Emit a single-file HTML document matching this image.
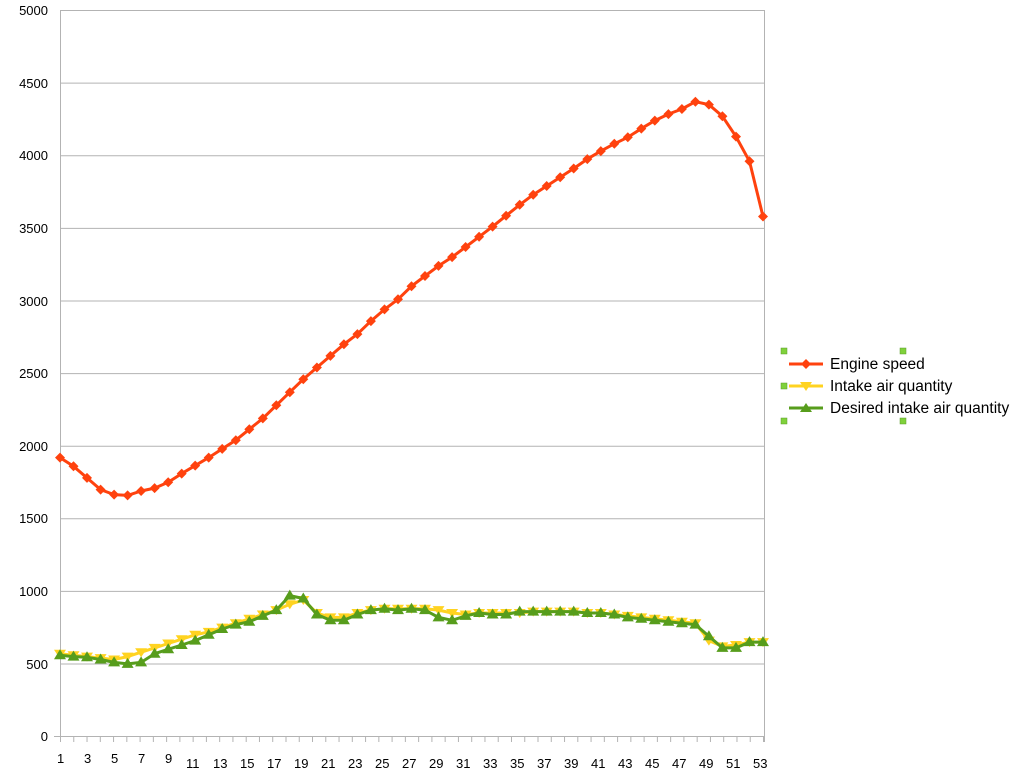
<!DOCTYPE html>
<html><head><meta charset="utf-8"><style>
body{margin:0;background:#fff;}
svg{display:block;font-family:"Liberation Sans",sans-serif;}
</style></head><body>
<svg id="s" width="1014" height="768" viewBox="0 0 1014 768">
<rect x="0" y="0" width="1014" height="768" fill="#fff"/>
<g stroke="#b3b3b3" stroke-width="1">
<line x1="60" y1="10.5" x2="764" y2="10.5"/>
<line x1="60" y1="83.1" x2="764" y2="83.1"/>
<line x1="60" y1="155.7" x2="764" y2="155.7"/>
<line x1="60" y1="228.4" x2="764" y2="228.4"/>
<line x1="60" y1="301" x2="764" y2="301"/>
<line x1="60" y1="373.6" x2="764" y2="373.6"/>
<line x1="60" y1="446.2" x2="764" y2="446.2"/>
<line x1="60" y1="518.8" x2="764" y2="518.8"/>
<line x1="60" y1="591.4" x2="764" y2="591.4"/>
<line x1="60" y1="664" x2="764" y2="664"/>
<line x1="54" y1="736.5" x2="764" y2="736.5"/>
<line x1="60.5" y1="10" x2="60.5" y2="742"/>
<line x1="764.5" y1="10" x2="764.5" y2="742"/>
</g>
<g id="ticks" stroke="#b3b3b3"></g>
<g font-size="13" fill="#000" text-anchor="end">
<text x="48" y="15">5000</text><text x="48" y="88">4500</text><text x="48" y="160">4000</text>
<text x="48" y="233">3500</text><text x="48" y="306">3000</text><text x="48" y="378">2500</text>
<text x="48" y="451">2000</text><text x="48" y="523">1500</text><text x="48" y="596">1000</text>
<text x="48" y="669">500</text><text x="48" y="741">0</text>
</g>
<g font-size="13" fill="#000">
<text x="57" y="763">1</text><text x="84" y="763">3</text><text x="111" y="763">5</text>
<text x="138" y="763">7</text><text x="165" y="763">9</text><text x="186" y="768">11</text>
<text x="213" y="768">13</text><text x="240" y="768">15</text><text x="267" y="768">17</text>
<text x="294" y="768">19</text><text x="321" y="768">21</text><text x="348" y="768">23</text>
<text x="375" y="768">25</text><text x="402" y="768">27</text><text x="429" y="768">29</text>
<text x="456" y="768">31</text><text x="483" y="768">33</text><text x="510" y="768">35</text>
<text x="537" y="768">37</text><text x="564" y="768">39</text><text x="591" y="768">41</text>
<text x="618" y="768">43</text><text x="645" y="768">45</text><text x="672" y="768">47</text>
<text x="699" y="768">49</text><text x="726" y="768">51</text><text x="753" y="768">53</text>
</g>
<g id="series"></g>
<g>
<rect x="781" y="348" width="6" height="6" fill="#7fd13b" stroke="#5a9a2a" stroke-width="0.5"/>
<rect x="900" y="348" width="6" height="6" fill="#7fd13b" stroke="#5a9a2a" stroke-width="0.5"/>
<rect x="781" y="383" width="6" height="6" fill="#7fd13b" stroke="#5a9a2a" stroke-width="0.5"/>
<rect x="781" y="418" width="6" height="6" fill="#7fd13b" stroke="#5a9a2a" stroke-width="0.5"/>
<rect x="900" y="418" width="6" height="6" fill="#7fd13b" stroke="#5a9a2a" stroke-width="0.5"/>
<line x1="789" y1="364" x2="823" y2="364" stroke="#ff420e" stroke-width="3"/>
<polygon points="806,359 811,364 806,369 801,364" fill="#ff420e"/>
<line x1="789" y1="386" x2="823" y2="386" stroke="#ffd320" stroke-width="3"/>
<polygon points="800,382 812,382 806,391" fill="#ffd320"/>
<line x1="789" y1="408" x2="823" y2="408" stroke="#579d1c" stroke-width="3"/>
<polygon points="800,412 812,412 806,403" fill="#579d1c"/>
<text x="830" y="369" font-size="15.5">Engine speed</text>
<text x="830" y="391" font-size="15.5">Intake air quantity</text>
<text x="830" y="413" font-size="15.5">Desired intake air quantity</text>
</g>
</svg>
<script>
var es=[1920,1860,1780,1700,1665,1660,1690,1710,1750,1810,1865,1920,1980,2040,2115,2190,2280,2370,2460,2540,2620,2700,2770,2860,2940,3010,3100,3170,3240,3300,3370,3440,3510,3585,3660,3730,3790,3850,3910,3975,4030,4080,4125,4185,4240,4285,4320,4370,4350,4270,4130,3960,3580];
var ya=[570,560,550,540,530,550,580,610,640,670,700,720,750,780,810,840,870,910,940,850,820,820,850,870,880,880,880,880,870,850,840,850,850,850,850,860,860,860,860,850,850,840,830,820,810,800,790,780,660,620,630,650,650];
var gr=[560,550,545,530,510,500,510,570,600,630,660,700,740,770,790,830,870,970,950,840,800,800,840,870,880,870,880,870,820,800,830,850,840,840,860,860,860,860,860,850,850,840,820,810,800,790,780,770,690,610,610,650,650];
var NS="http://www.w3.org/2000/svg",g=document.getElementById("series"),tk=document.getElementById("ticks");
function X(i){return 60+i*(703/52);}function Y(v){return 736.5-v*0.14526;}
for(var i=0;i<=53;i++){var l=document.createElementNS(NS,"line");var x=60.5+i*(703/53);l.setAttribute("x1",x);l.setAttribute("x2",x);l.setAttribute("y1",736);l.setAttribute("y2",742);tk.appendChild(l);}
function draw(d,c,m){var p=d.map(function(v,i){return X(i).toFixed(1)+","+Y(v).toFixed(1)}).join(" ");
var pl=document.createElementNS(NS,"polyline");pl.setAttribute("points",p);pl.setAttribute("fill","none");pl.setAttribute("stroke",c);pl.setAttribute("stroke-width","3");pl.setAttribute("stroke-linejoin","round");g.appendChild(pl);
d.forEach(function(v,i){var x=X(i),y=Y(v),pts;
if(m==0)pts=[[x,y-5],[x+5,y],[x,y+5],[x-5,y]];else if(m==1)pts=[[x-6,y-4],[x+6,y-4],[x,y+5]];else pts=[[x-6,y+4],[x+6,y+4],[x,y-6]];
var pg=document.createElementNS(NS,"polygon");pg.setAttribute("points",pts.map(function(q){return q[0].toFixed(1)+","+q[1].toFixed(1)}).join(" "));pg.setAttribute("fill",c);g.appendChild(pg);});}
draw(ya,"#ffd320",1);draw(gr,"#579d1c",2);draw(es,"#ff420e",0);
</script>
</body></html>
